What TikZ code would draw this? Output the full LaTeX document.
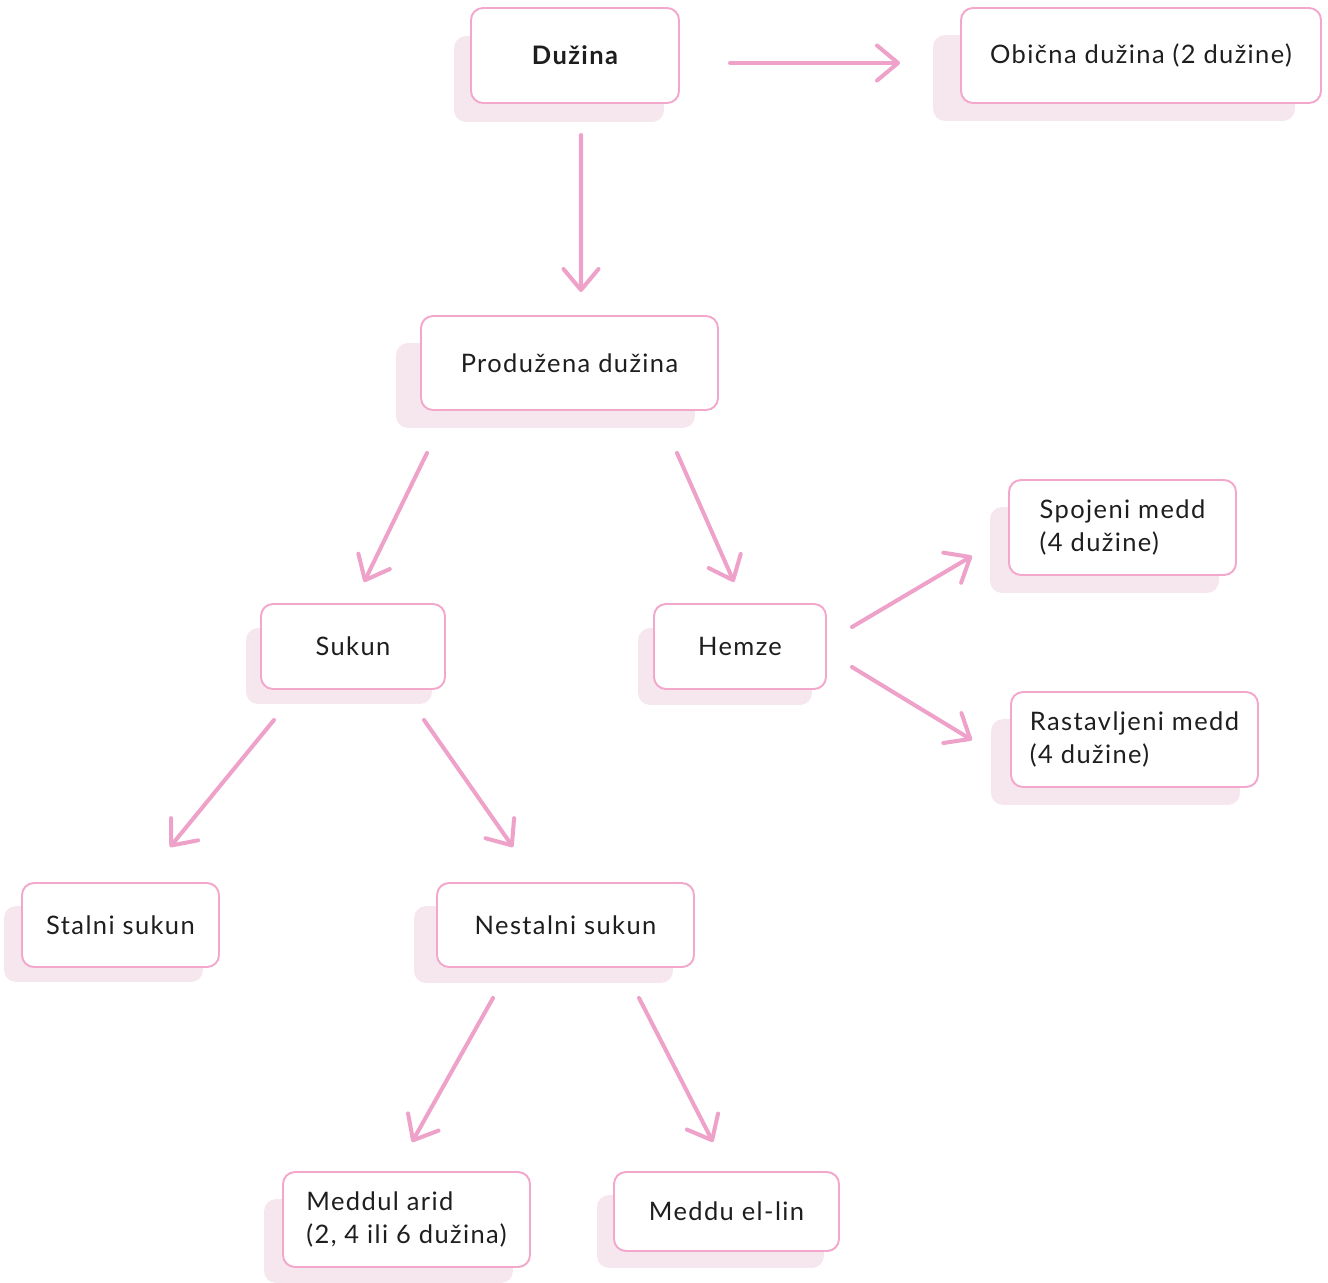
\documentclass[tikz,border=0pt]{standalone}
\usepackage{fontspec}
\setmainfont{Lato}[LetterSpace=5.5]
\usetikzlibrary{arrows.meta}

\definecolor{pinkLine}{HTML}{F2A7CB}
\definecolor{pinkArr}{HTML}{EFA2C9}
\definecolor{pinkShade}{HTML}{F6E7EF}
\definecolor{txtDark}{HTML}{1E1E1E}

\newcommand\pxlen{0.02cm}

\pgfdeclarelayer{back}
\pgfsetlayers{back,main}

\begin{document}
\begin{tikzpicture}[
    x=0.02cm, y=-0.02cm,
    box/.style={draw=pinkLine, line width=1.1pt, fill=white, rounded corners=0.24cm,
        inner sep=0pt, text=txtDark, font=\fontsize{14.5}{19.3}\selectfont},
    shade/.style={fill=pinkShade, rounded corners=0.24cm},
    arr/.style={-{Straight Barb[length=0.42cm, width=0.7cm, line cap=round, line join=round]},
        line width=2.3pt, pinkArr, line cap=round},
]
\useasboundingbox (0,0) rectangle (1328,1282);

% === Level 1 ===
\node[box, minimum width=208*\pxlen, minimum height=95*\pxlen, font=\fontsize{14.5}{19.3}\selectfont\bfseries]
    (duzina) at (575,55.5) {Dužina};
\node[box, minimum width=360*\pxlen, minimum height=95*\pxlen]
    (obicna) at (1141,55.5) {Obična dužina (2 dužine)};

% === Level 2 ===
\node[box, minimum width=297*\pxlen, minimum height=94*\pxlen]
    (produzena) at (569.5,363) {Produžena dužina};

% === Level 3 ===
\node[box, minimum width=184*\pxlen, minimum height=85*\pxlen]
    (sukun) at (353,646.5) {Sukun};
\node[box, minimum width=172*\pxlen, minimum height=85*\pxlen]
    (hemze) at (740,646.5) {Hemze};
\node[box, minimum width=227*\pxlen, minimum height=95*\pxlen, align=left]
    (spojeni) at (1122.5,527.5) {Spojeni medd\\(4 dužine)};
\node[box, minimum width=247*\pxlen, minimum height=95*\pxlen, align=left]
    (rastav) at (1134.5,739.5) {Rastavljeni medd\\(4 dužine)};

% === Level 4 ===
\node[box, minimum width=197*\pxlen, minimum height=84*\pxlen]
    (stalni) at (120.5,925) {Stalni sukun};
\node[box, minimum width=257*\pxlen, minimum height=84*\pxlen]
    (nestalni) at (565.5,925) {Nestalni sukun};

% === Level 5 ===
\node[box, minimum width=247*\pxlen, minimum height=95*\pxlen, align=left]
    (arid) at (406.5,1219.5) {Meddul arid\\(2, 4 ili 6 dužina)};
\node[box, minimum width=225*\pxlen, minimum height=79*\pxlen]
    (ellin) at (726.5,1211.5) {Meddu el-lin};

% shadows behind the boxes (x offset, top and bottom offsets)
\begin{pgfonlayer}{back}
\foreach \n/\dx/\dt/\db in {duzina/-16/29/18, obicna/-27/28/17, produzena/-24/28/17,
    sukun/-14/25/14, hemze/-15/25/15, spojeni/-18/28/17, rastav/-19/28/17,
    stalni/-17/24/14, nestalni/-22/24/15, arid/-18/28/15, ellin/-16/24/16}
    \fill[shade] ([shift={(\dx,\dt)}]\n.north west) rectangle ([shift={(\dx,\db)}]\n.south east);
\end{pgfonlayer}

% Arrows
\draw[arr] ([shift={(50,7.5)}]duzina.east) -- ([shift={(-60,7.5)}]obicna.west);
\draw[arr] ([shift={(6,31)}]duzina.south) -- ([shift={(11.5,-23)}]produzena.north);
\draw[arr] ([shift={(-142.5,42)}]produzena.south) -- ([shift={(11,-21)}]sukun.north);
\draw[arr] ([shift={(107.5,42)}]produzena.south) -- ([shift={(-6,-21)}]hemze.north);
\draw[arr] ([shift={(25,-19.5)}]hemze.east) -- ([shift={(-36,28.5)}]spojeni.west);
\draw[arr] ([shift={(25,20.5)}]hemze.east) -- ([shift={(-38,0.5)}]rastav.west);
\draw[arr] ([shift={(-79,30)}]sukun.south) -- ([shift={(49.5,-35)}]stalni.north);
\draw[arr] ([shift={(71,30)}]sukun.south) -- ([shift={(-52.5,-35)}]nestalni.north);
\draw[arr] ([shift={(-72.5,30)}]nestalni.south) -- ([shift={(5.5,-29)}]arid.north);
\draw[arr] ([shift={(73.5,30)}]nestalni.south) -- ([shift={(-13.5,-29)}]ellin.north);

\end{tikzpicture}
\end{document}
